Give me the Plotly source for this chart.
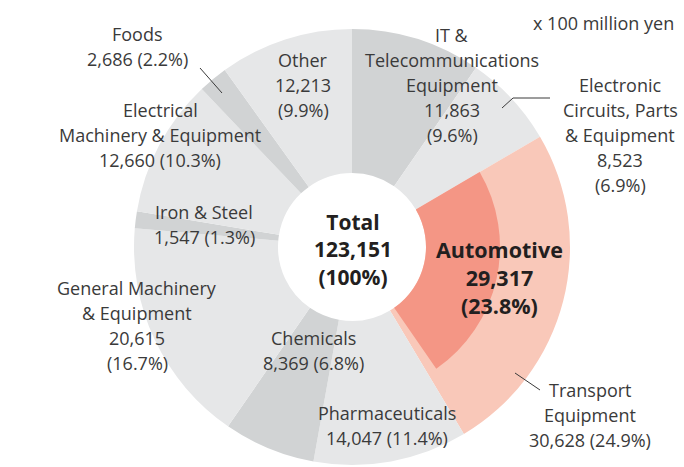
import plotly.graph_objects as go

# ---- data (x 100 million yen) ----
categories = ["IT & Telecommunications Equipment", "Electronic Circuits, Parts & Equipment",
              "Transport Equipment", "Pharmaceuticals", "Chemicals",
              "General Machinery & Equipment", "Iron & Steel",
              "Electrical Machinery & Equipment", "Foods", "Other"]
values = [11863, 8523, 30628, 14047, 8369, 20615, 1547, 12660, 2686, 12213]
shares = ["9.6%", "6.9%", "24.9%", "11.4%", "6.8%", "16.7%", "1.3%", "10.3%", "2.2%", "9.9%"]
automotive_value = 29317
automotive_share = "23.8%"
total_value = 123151

W, H = 684, 467
CX, CY = 352, 247          # donut centre (px)
R_OUT, R_HOLE, R_AUTO = 218, 74, 148

LIGHT, DARK = "#e6e7e8", "#d1d3d4"
TRANSPORT_C, AUTO_C = "#f9c8b9", "#f49685"
colors = [DARK, LIGHT, TRANSPORT_C, LIGHT, DARK, LIGHT, DARK, LIGHT, DARK, LIGHT]


def dom(r):
    return dict(x=[(CX - r) / W, (CX + r) / W],
                y=[(H - CY - r) / H, (H - CY + r) / H])


fig = go.Figure()
fig.add_trace(go.Pie(
    labels=categories, values=values, sort=False, direction="clockwise", rotation=0,
    hole=R_HOLE / R_OUT, domain=dom(R_OUT),
    marker=dict(colors=colors, line=dict(width=0)),
    textinfo="none", hoverinfo="skip", showlegend=False))

# inner ring: Automotive inside Transport Equipment
start_transport = sum(values[:categories.index("Transport Equipment")])
fig.add_trace(go.Pie(
    labels=["Automotive", "rest"], values=[automotive_value, total_value - automotive_value],
    sort=False, direction="clockwise", rotation=360 * start_transport / total_value,
    hole=R_HOLE / R_AUTO, domain=dom(R_AUTO),
    marker=dict(colors=[AUTO_C, "rgba(0,0,0,0)"], line=dict(width=0)),
    textinfo="none", hoverinfo="skip", showlegend=False))

TXT = "#3a3a3a"
annotations = []


def label(lines, x, y0, step=25, size=18, color=TXT):
    for i, ln in enumerate(lines):
        annotations.append(dict(x=x / W, y=1 - (y0 + i * step) / H, xref="paper", yref="paper",
                                text=ln, showarrow=False, xanchor="center", yanchor="middle",
                                font=dict(family="Open Sans", size=size, color=color)))


def bold_block(lines, x, ymid, size=21):
    annotations.append(dict(x=x / W, y=1 - ymid / H, xref="paper", yref="paper",
                            text="<br>".join(f"<b>{ln}</b>" for ln in lines),
                            showarrow=False, xanchor="center", yanchor="middle", align="center",
                            font=dict(family="Open Sans", size=size, color="#231f20")))


def fmt(v):
    return f"{v:,}"


label(["Foods", f"{fmt(values[8])} ({shares[8]})"], 137, 34)
label(["Other", fmt(values[9]), f"({shares[9]})"], 303, 60)
label(["IT &", "Telecommunications", "Equipment", fmt(values[0]), f"({shares[0]})"], 452, 35)
label(["Electronic", "Circuits, Parts", "& Equipment", fmt(values[1]), f"({shares[1]})"], 620, 85)
label(["Electrical", "Machinery & Equipment", f"{fmt(values[7])} ({shares[7]})"], 160, 110)
label(["Iron & Steel", f"{fmt(values[6])} ({shares[6]})"], 204, 212)
label(["General Machinery", "& Equipment", fmt(values[5]), f"({shares[5]})"], 137, 288)
label(["Chemicals", f"{fmt(values[4])} ({shares[4]})"], 313, 338)
label(["Pharmaceuticals", f"{fmt(values[3])} ({shares[3]})"], 387, 413)
label(["Transport", "Equipment", f"{fmt(values[2])} ({shares[2]})"], 590, 390)
bold_block(["Total", fmt(total_value), "(100%)"], 353, 249.5)
bold_block(["Automotive", fmt(automotive_value), f"({automotive_share})"], 499, 277.5, size=21.5)
label(["x 100 million yen"], 603, 23)

shapes = []


def seg(x0, y0, x1, y1):
    shapes.append(dict(type="line", xref="paper", yref="paper",
                       x0=x0 / W, y0=1 - y0 / H, x1=x1 / W, y1=1 - y1 / H,
                       line=dict(color=TXT, width=1)))


seg(200, 68, 222, 93)          # Foods
seg(502, 108, 513, 98)         # Electronic circuits
seg(513, 98, 550, 98)
seg(515, 373, 540, 390)        # Transport

fig.update_layout(width=W, height=H, margin=dict(l=0, r=0, t=0, b=0),
                  paper_bgcolor="white", plot_bgcolor="white",
                  annotations=annotations, shapes=shapes,
                  font=dict(family="Open Sans"))
fig.write_html("out.html", config={"displayModeBar": False},
               post_script="document.body.style.margin='0';document.body.style.overflow='hidden';")
